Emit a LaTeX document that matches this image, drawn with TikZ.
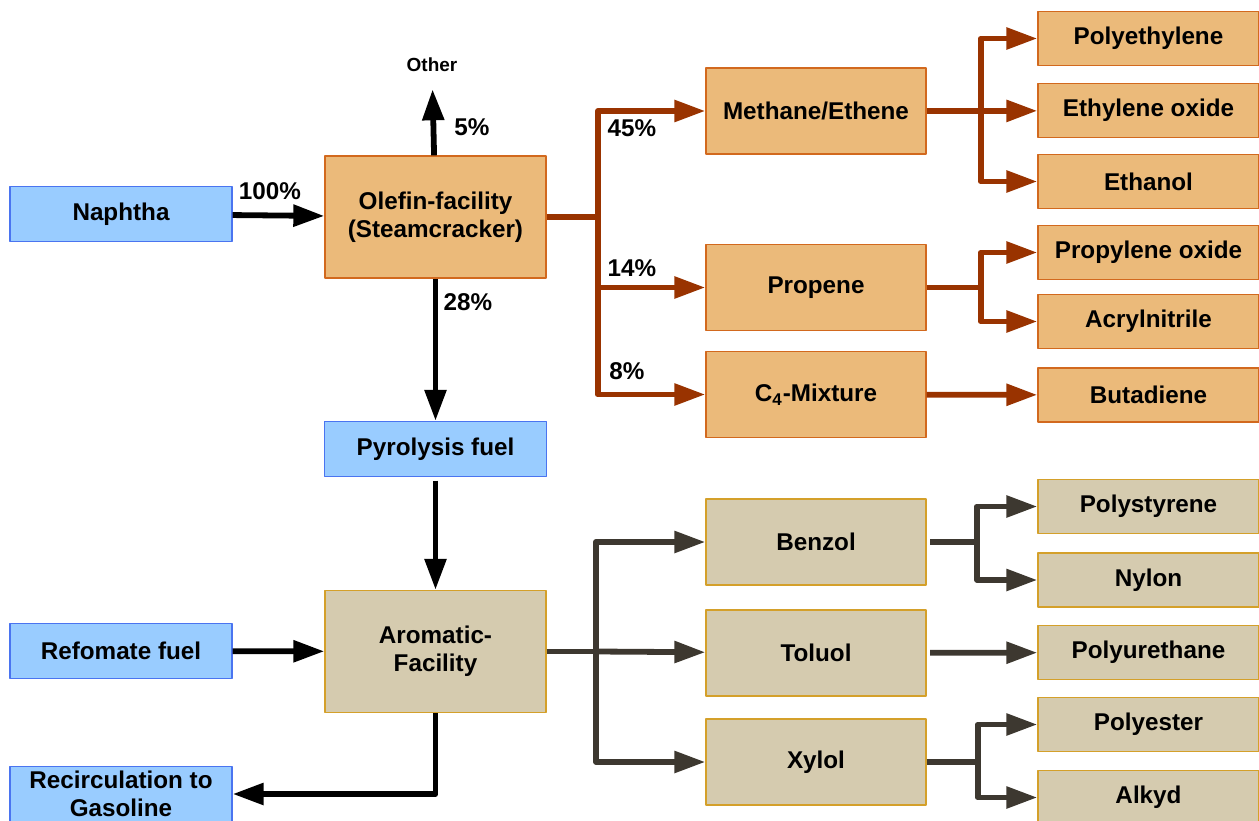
\documentclass[tikz,border=0pt]{standalone}
\usepackage{fontspec}
\setmainfont{Liberation Sans}
\usetikzlibrary{arrows.meta,positioning}
\definecolor{feedfill}{HTML}{99CCFF}
\definecolor{feededge}{HTML}{4A74F0}
\definecolor{olefill}{HTML}{EBBA7A}
\definecolor{oleedge}{HTML}{D2691E}
\definecolor{aromfill}{HTML}{D5CBAF}
\definecolor{aromedge}{HTML}{D4A02A}
\definecolor{olearrow}{HTML}{993300}
\definecolor{aromarrow}{HTML}{3D3830}
\tikzset{box/.style={draw,line width=0.8pt,align=center,inner sep=0pt,
    font=\bfseries\fontsize{13.8}{16}\selectfont}}

\begin{document}
\begin{tikzpicture}[x=0.02cm,y=-0.02cm,line join=round,
    feed/.style={box,fill=feedfill,draw=feededge,minimum width=4.44cm,minimum height=1.1cm},
    plant/.style={box,minimum width=4.42cm,minimum height=2.44cm},
    middle/.style={box,minimum width=4.4cm,minimum height=1.72cm},
    product/.style={box,minimum width=4.42cm,minimum height=1.08cm},
    ole/.style={fill=olefill,draw=oleedge},
    arom/.style={fill=aromfill,draw=aromedge},
    pct/.style={inner sep=0pt,font=\bfseries\fontsize{13.8}{16}\selectfont},
    tip/.style={-{Triangle[length=0.62cm,width=0.42cm]}},
    bline/.style={draw=black,line width=3.3pt},
    oline/.style={draw=olearrow,line width=3.3pt},
    aline/.style={draw=aromarrow,line width=3.3pt}]
  \useasboundingbox (0,0) rectangle (1259,821);

  % left column
  \node[feed] (naphtha) at (121,214) {Naphtha};
  \node[feed] (reformate) at (121,651) {Refomate fuel};
  \node[feed] (recirc) at (121,794) {Recirculation to\\Gasoline};

  % plants
  \node[plant,ole] (olefin) at (435.5,217) {Olefin-facility\\(Steamcracker)};
  \node[feed] (pyrolysis) at (435.5,449) {Pyrolysis fuel};
  \node[plant,arom] (aromatic) at (435.5,651.5) {Aromatic-\\Facility};
  \node[pct,font=\bfseries\fontsize{10.8}{13}\selectfont] (other) at (432,65) {Other};

  % intermediates
  \node[middle,ole] (methane) at (816,111) {Methane/Ethene};
  \node[middle,ole] (propene) at (816,287.5) {Propene};
  \node[middle,ole] (c4) at (816,394.5) {C\textsubscript{4}-Mixture};
  \node[middle,arom] (benzol) at (816,542) {Benzol};
  \node[middle,arom] (toluol) at (816,653) {Toluol};
  \node[middle,arom] (xylol) at (816,762) {Xylol};

  % products
  \node[product,ole] (polyeth) at (1148.5,38.5) {Polyethylene};
  \node[product,ole] (ethox) at (1148.5,110.5) {Ethylene oxide};
  \node[product,ole] (ethanol) at (1148.5,181.5) {Ethanol};
  \node[product,ole] (propox) at (1148.5,252.5) {Propylene oxide};
  \node[product,ole] (acryl) at (1148.5,321.5) {Acrylnitrile};
  \node[product,ole] (butad) at (1148.5,395) {Butadiene};
  \node[product,arom] (polysty) at (1148.5,506.5) {Polystyrene};
  \node[product,arom] (nylon) at (1148.5,580) {Nylon};
  \node[product,arom] (polyur) at (1148.5,652.5) {Polyurethane};
  \node[product,arom] (polyes) at (1148.5,724.5) {Polyester};
  \node[product,arom] (alkyd) at (1148.5,797.5) {Alkyd};

  % percentages
  \node[pct] (p100) at (270,191) {100\%};
  \node[pct] (p5) at (472,127) {5\%};
  \node[pct] (p28) at (468,302) {28\%};
  \node[pct] (p45) at (632,128) {45\%};
  \node[pct] (p14) at (632,268) {14\%};
  \node[pct] (p8) at (627,371) {8\%};

  % forks
  \coordinate (ofork) at (598,217);
  \coordinate (mfork) at (981,111);
  \coordinate (pfork) at (981,287.5);
  \coordinate (afork) at (596,651.5);
  \coordinate (bfork) at (977,542);
  \coordinate (xfork) at (978,762);

  % black flows
  \draw[bline,tip] (naphtha) -- (olefin);
  \draw[bline,tip,shorten >=0.34cm] (olefin) -- (other);
  \draw[bline,tip] (olefin) -- (pyrolysis);
  \draw[bline,tip,shorten <=2pt] (pyrolysis) -- (aromatic);
  \draw[bline,tip] (reformate) -- (aromatic);
  \draw[bline,tip] (aromatic) |- (recirc);

  % olefin flows
  \draw[oline] (olefin) -- (ofork);
  \draw[oline,tip] (ofork) |- (methane);
  \draw[oline,tip] (ofork) |- (propene);
  \draw[oline,tip] (ofork) |- (c4);
  \draw[oline] (methane) -- (mfork);
  \draw[oline,tip] (mfork) |- (polyeth);
  \draw[oline,tip] (mfork) -- (ethox);
  \draw[oline,tip] (mfork) |- (ethanol);
  \draw[oline] (propene) -- (pfork);
  \draw[oline,tip] (pfork) |- (propox);
  \draw[oline,tip] (pfork) |- (acryl);
  \draw[oline,tip] (c4) -- (butad);

  % aromatic flows
  \draw[aline] (aromatic) -- (afork);
  \draw[aline,tip] (afork) |- (benzol);
  \draw[aline,tip] (afork) -- (toluol);
  \draw[aline,tip] (afork) |- (xylol);
  \draw[aline,shorten <=2pt] (benzol) -- (bfork);
  \draw[aline,tip] (bfork) |- (polysty);
  \draw[aline,tip] (bfork) |- (nylon);
  \draw[aline,tip,shorten <=2pt] (toluol) -- (polyur);
  \draw[aline] (xylol) -- (xfork);
  \draw[aline,tip] (xfork) |- (polyes);
  \draw[aline,tip] (xfork) |- (alkyd);
\end{tikzpicture}
\end{document}
